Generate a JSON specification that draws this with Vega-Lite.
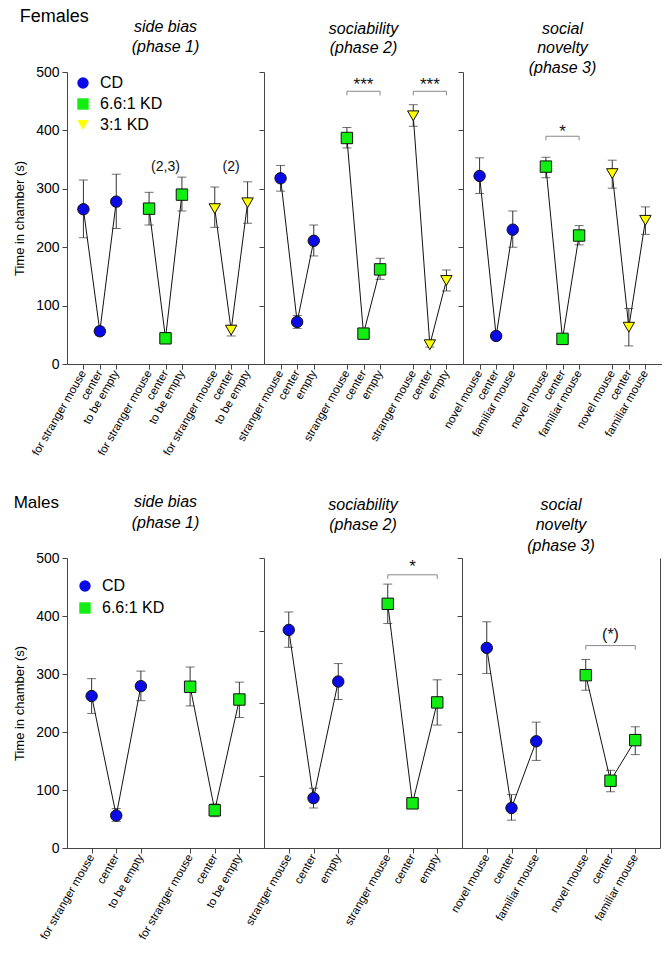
{
  "$schema": "https://vega.github.io/schema/vega-lite/v6.json",
  "padding": {"left": 13, "top": 8, "right": 0, "bottom": 0},
  "background": "white",
  "datasets": {
    "pts": [
      {"sex":"Females","phase":"side bias","diet":"CD","slot":"CD|for stranger mouse","mean":265,"lo":216,"hi":315},
      {"sex":"Females","phase":"side bias","diet":"CD","slot":"CD|center","mean":56,"lo":49,"hi":63},
      {"sex":"Females","phase":"side bias","diet":"CD","slot":"CD|to be empty","mean":278,"lo":232,"hi":325},
      {"sex":"Females","phase":"side bias","diet":"6.6:1 KD","slot":"6.6:1 KD|for stranger mouse","mean":266,"lo":238,"hi":294},
      {"sex":"Females","phase":"side bias","diet":"6.6:1 KD","slot":"6.6:1 KD|center","mean":44,"lo":41,"hi":47},
      {"sex":"Females","phase":"side bias","diet":"6.6:1 KD","slot":"6.6:1 KD|to be empty","mean":290,"lo":262,"hi":320},
      {"sex":"Females","phase":"side bias","diet":"3:1 KD","slot":"3:1 KD|for stranger mouse","mean":266,"lo":234,"hi":303},
      {"sex":"Females","phase":"side bias","diet":"3:1 KD","slot":"3:1 KD|center","mean":58,"lo":48,"hi":66},
      {"sex":"Females","phase":"side bias","diet":"3:1 KD","slot":"3:1 KD|to be empty","mean":276,"lo":241,"hi":312},
      {"sex":"Females","phase":"sociability","diet":"CD","slot":"CD|stranger mouse","mean":318,"lo":296,"hi":340},
      {"sex":"Females","phase":"sociability","diet":"CD","slot":"CD|center","mean":72,"lo":61,"hi":83},
      {"sex":"Females","phase":"sociability","diet":"CD","slot":"CD|empty","mean":211,"lo":185,"hi":238},
      {"sex":"Females","phase":"sociability","diet":"6.6:1 KD","slot":"6.6:1 KD|stranger mouse","mean":387,"lo":370,"hi":405},
      {"sex":"Females","phase":"sociability","diet":"6.6:1 KD","slot":"6.6:1 KD|center","mean":52,"lo":48,"hi":56},
      {"sex":"Females","phase":"sociability","diet":"6.6:1 KD","slot":"6.6:1 KD|empty","mean":162,"lo":145,"hi":181},
      {"sex":"Females","phase":"sociability","diet":"3:1 KD","slot":"3:1 KD|stranger mouse","mean":425,"lo":407,"hi":444},
      {"sex":"Females","phase":"sociability","diet":"3:1 KD","slot":"3:1 KD|center","mean":33,"lo":29,"hi":37},
      {"sex":"Females","phase":"sociability","diet":"3:1 KD","slot":"3:1 KD|empty","mean":143,"lo":125,"hi":161},
      {"sex":"Females","phase":"social novelty","diet":"CD","slot":"CD|novel mouse","mean":322,"lo":292,"hi":353},
      {"sex":"Females","phase":"social novelty","diet":"CD","slot":"CD|center","mean":48,"lo":44,"hi":52},
      {"sex":"Females","phase":"social novelty","diet":"CD","slot":"CD|familiar mouse","mean":230,"lo":200,"hi":262},
      {"sex":"Females","phase":"social novelty","diet":"6.6:1 KD","slot":"6.6:1 KD|novel mouse","mean":338,"lo":319,"hi":354},
      {"sex":"Females","phase":"social novelty","diet":"6.6:1 KD","slot":"6.6:1 KD|center","mean":43,"lo":40,"hi":47},
      {"sex":"Females","phase":"social novelty","diet":"6.6:1 KD","slot":"6.6:1 KD|familiar mouse","mean":220,"lo":204,"hi":237},
      {"sex":"Females","phase":"social novelty","diet":"3:1 KD","slot":"3:1 KD|novel mouse","mean":326,"lo":301,"hi":349},
      {"sex":"Females","phase":"social novelty","diet":"3:1 KD","slot":"3:1 KD|center","mean":63,"lo":31,"hi":95},
      {"sex":"Females","phase":"social novelty","diet":"3:1 KD","slot":"3:1 KD|familiar mouse","mean":246,"lo":222,"hi":269},
      {"sex":"Males","phase":"side bias","diet":"CD","slot":"CD|for stranger mouse","mean":262,"lo":232,"hi":292},
      {"sex":"Males","phase":"side bias","diet":"CD","slot":"CD|center","mean":56,"lo":46,"hi":68},
      {"sex":"Males","phase":"side bias","diet":"CD","slot":"CD|to be empty","mean":279,"lo":254,"hi":305},
      {"sex":"Males","phase":"side bias","diet":"6.6:1 KD","slot":"6.6:1 KD|for stranger mouse","mean":278,"lo":245,"hi":312},
      {"sex":"Males","phase":"side bias","diet":"6.6:1 KD","slot":"6.6:1 KD|center","mean":65,"lo":54,"hi":76},
      {"sex":"Males","phase":"side bias","diet":"6.6:1 KD","slot":"6.6:1 KD|to be empty","mean":256,"lo":225,"hi":286},
      {"sex":"Males","phase":"sociability","diet":"CD","slot":"CD|stranger mouse","mean":376,"lo":346,"hi":407},
      {"sex":"Males","phase":"sociability","diet":"CD","slot":"CD|center","mean":86,"lo":69,"hi":103},
      {"sex":"Males","phase":"sociability","diet":"CD","slot":"CD|empty","mean":287,"lo":256,"hi":318},
      {"sex":"Males","phase":"sociability","diet":"6.6:1 KD","slot":"6.6:1 KD|stranger mouse","mean":421,"lo":387,"hi":455},
      {"sex":"Males","phase":"sociability","diet":"6.6:1 KD","slot":"6.6:1 KD|center","mean":77,"lo":72,"hi":83},
      {"sex":"Males","phase":"sociability","diet":"6.6:1 KD","slot":"6.6:1 KD|empty","mean":251,"lo":212,"hi":290},
      {"sex":"Males","phase":"social novelty","diet":"CD","slot":"CD|novel mouse","mean":345,"lo":301,"hi":390},
      {"sex":"Males","phase":"social novelty","diet":"CD","slot":"CD|center","mean":69,"lo":48,"hi":92},
      {"sex":"Males","phase":"social novelty","diet":"CD","slot":"CD|familiar mouse","mean":184,"lo":151,"hi":217},
      {"sex":"Males","phase":"social novelty","diet":"6.6:1 KD","slot":"6.6:1 KD|novel mouse","mean":298,"lo":272,"hi":325},
      {"sex":"Males","phase":"social novelty","diet":"6.6:1 KD","slot":"6.6:1 KD|center","mean":116,"lo":97,"hi":134},
      {"sex":"Males","phase":"social novelty","diet":"6.6:1 KD","slot":"6.6:1 KD|familiar mouse","mean":186,"lo":161,"hi":209}
    ],
    "sig": [
      {"sex":"Females","phase":"sociability","a":"6.6:1 KD|stranger mouse","b":"6.6:1 KD|empty","m":"6.6:1 KD|center","y":467,"ylo":460,"ty":478,"label":"***"},
      {"sex":"Females","phase":"sociability","a":"3:1 KD|stranger mouse","b":"3:1 KD|empty","m":"3:1 KD|center","y":467,"ylo":460,"ty":478,"label":"***"},
      {"sex":"Females","phase":"social novelty","a":"6.6:1 KD|novel mouse","b":"6.6:1 KD|familiar mouse","m":"6.6:1 KD|center","y":390,"ylo":383,"ty":398,"label":"*"},
      {"sex":"Males","phase":"sociability","a":"6.6:1 KD|stranger mouse","b":"6.6:1 KD|empty","m":"6.6:1 KD|center","y":471,"ylo":464,"ty":485,"label":"*"},
      {"sex":"Males","phase":"social novelty","a":"6.6:1 KD|novel mouse","b":"6.6:1 KD|familiar mouse","m":"6.6:1 KD|center","y":349,"ylo":342,"ty":367,"label":"(*)"}
    ],
    "notes": [
      {"sex":"Females","phase":"side bias","m":"6.6:1 KD|center","ty":337,"label":"(2,3)"},
      {"sex":"Females","phase":"side bias","m":"3:1 KD|center","ty":337,"label":"(2)"}
    ]
  },
  "vconcat": [
    {
      "title": {"text": "Females", "anchor": "start", "fontSize": 18, "fontWeight": "normal", "offset": -7, "dx": 6},
      "bounds": "flush",
      "spacing": 0,
      "resolve": {"scale": {"fill": "independent", "shape": "independent"}},
      "hconcat": [
        {
          "width": 197, "height": 292,
          "title": {"text": ["side bias", "(phase 1)", " "], "fontSize": 16, "fontStyle": "italic", "fontWeight": "normal", "offset": -9, "lineHeight": 19.5, "frame": "group", "anchor": "middle"},
          "layer": [
            {
              "data": {"name": "pts"},
              "transform": [{"filter": "datum.sex === 'Females' && datum.phase === 'side bias'"}],
              "mark": {"type": "errorbar", "ticks": {"size": 9, "color": "#333"}, "rule": {"color": "#333"}, "color": "#333"},
              "encoding": {
                "x": {"field": "slot", "type": "ordinal", "title": null,
                  "scale": {"type": "point", "padding": 1, "domain": ["CD|for stranger mouse","CD|center","CD|to be empty","g1","6.6:1 KD|for stranger mouse","6.6:1 KD|center","6.6:1 KD|to be empty","g2","3:1 KD|for stranger mouse","3:1 KD|center","3:1 KD|to be empty"]},
                  "axis": {"values": ["CD|for stranger mouse","CD|center","CD|to be empty","6.6:1 KD|for stranger mouse","6.6:1 KD|center","6.6:1 KD|to be empty","3:1 KD|for stranger mouse","3:1 KD|center","3:1 KD|to be empty"], "labelExpr": "split(datum.value, '|')[1]", "labelAngle": -60, "labelFontSize": 11.5, "tickSize": 5, "labelPadding": 2, "labelOverlap": false, "labelBound": false, "labelFlush": false}},
                "y": {"field": "lo", "type": "quantitative",
                  "scale": {"domain": [0, 500], "nice": false, "zero": false},
                  "axis": {"title": "Time in chamber (s)", "values": [0,100,200,300,400,500], "labelFontSize": 14, "titleFontSize": 13, "titleFontWeight": "normal", "tickSize": 5, "labelPadding": 3, "titlePadding": 9}},
                "y2": {"field": "hi"}
              }
            },
            {
              "data": {"name": "pts"},
              "transform": [{"filter": "datum.sex === 'Females' && datum.phase === 'side bias'"}],
              "mark": {"type": "line", "color": "#111", "strokeWidth": 1},
              "encoding": {
                "x": {"field": "slot", "type": "ordinal", "title": null},
                "y": {"field": "mean", "type": "quantitative"},
                "detail": {"field": "diet"},
                "order": {"value": null}
              }
            },
            {
              "data": {"name": "pts"},
              "transform": [{"filter": "datum.sex === 'Females' && datum.phase === 'side bias'"}],
              "mark": {"type": "point", "filled": true, "size": 130, "stroke": "#111", "strokeWidth": 1, "opacity": 1},
              "encoding": {
                "x": {"field": "slot", "type": "ordinal", "title": null},
                "y": {"field": "mean", "type": "quantitative"},
                "fill": {"field": "diet", "type": "nominal", "scale": {"domain": ["CD","6.6:1 KD","3:1 KD"], "range": ["#0a0ae6","#11ee11","#ffff00"]},
                  "legend": {"title": null, "orient": "none", "legendX": 8, "legendY": 3, "labelFontSize": 16, "symbolSize": 130, "symbolStrokeColor": "#111", "symbolStrokeWidth": 1, "symbolOpacity": 1, "rowPadding": 5, "labelOffset": 9, "padding": 0}},
                "shape": {"field": "diet", "type": "nominal", "scale": {"domain": ["CD","6.6:1 KD","3:1 KD"], "range": ["circle","square","triangle-down"]},
                  "legend": {"title": null, "orient": "none", "legendX": 8, "legendY": 3, "labelFontSize": 16, "symbolSize": 130, "symbolStrokeColor": "#111", "symbolStrokeWidth": 1, "symbolOpacity": 1, "rowPadding": 5, "labelOffset": 9, "padding": 0}}
              }
            },
            {
              "data": {"name": "notes"},
              "transform": [{"filter": "datum.sex === 'Females' && datum.phase === 'side bias'"}],
              "mark": {"type": "text", "fontSize": 14, "color": "#111", "baseline": "middle"},
              "encoding": {
                "x": {"field": "m", "type": "ordinal", "title": null},
                "y": {"field": "ty", "type": "quantitative"},
                "text": {"field": "label"}
              }
            }
          ]
        },
        {
          "width": 199, "height": 292,
          "title": {"text": ["sociability", "(phase 2)", " "], "fontSize": 16, "fontStyle": "italic", "fontWeight": "normal", "offset": -4, "lineHeight": 19.5, "frame": "group", "anchor": "middle"},
          "layer": [
            {
              "data": {"name": "pts"},
              "transform": [{"filter": "datum.sex === 'Females' && datum.phase === 'sociability'"}],
              "mark": {"type": "errorbar", "ticks": {"size": 9, "color": "#333"}, "rule": {"color": "#333"}, "color": "#333"},
              "encoding": {
                "x": {"field": "slot", "type": "ordinal", "title": null,
                  "scale": {"type": "point", "padding": 1, "domain": ["CD|stranger mouse","CD|center","CD|empty","g1","6.6:1 KD|stranger mouse","6.6:1 KD|center","6.6:1 KD|empty","g2","3:1 KD|stranger mouse","3:1 KD|center","3:1 KD|empty"]},
                  "axis": {"values": ["CD|stranger mouse","CD|center","CD|empty","6.6:1 KD|stranger mouse","6.6:1 KD|center","6.6:1 KD|empty","3:1 KD|stranger mouse","3:1 KD|center","3:1 KD|empty"], "labelExpr": "split(datum.value, '|')[1]", "labelAngle": -60, "labelFontSize": 11.5, "tickSize": 5, "labelPadding": 2, "labelOverlap": false, "labelBound": false, "labelFlush": false}},
                "y": {"field": "lo", "type": "quantitative", "title": null,
                  "scale": {"domain": [0, 500], "nice": false, "zero": false},
                  "axis": {"values": [0,100,200,300,400,500], "labels": false, "tickSize": 5, "title": null}},
                "y2": {"field": "hi"}
              }
            },
            {
              "data": {"name": "pts"},
              "transform": [{"filter": "datum.sex === 'Females' && datum.phase === 'sociability'"}],
              "mark": {"type": "line", "color": "#111", "strokeWidth": 1},
              "encoding": {
                "x": {"field": "slot", "type": "ordinal", "title": null},
                "y": {"field": "mean", "type": "quantitative", "title": null},
                "detail": {"field": "diet"},
                "order": {"value": null}
              }
            },
            {
              "data": {"name": "pts"},
              "transform": [{"filter": "datum.sex === 'Females' && datum.phase === 'sociability'"}],
              "mark": {"type": "point", "filled": true, "size": 130, "stroke": "#111", "strokeWidth": 1, "opacity": 1},
              "encoding": {
                "x": {"field": "slot", "type": "ordinal", "title": null},
                "y": {"field": "mean", "type": "quantitative", "title": null},
                "fill": {"field": "diet", "type": "nominal", "scale": {"domain": ["CD","6.6:1 KD","3:1 KD"], "range": ["#0a0ae6","#11ee11","#ffff00"]}, "legend": null},
                "shape": {"field": "diet", "type": "nominal", "scale": {"domain": ["CD","6.6:1 KD","3:1 KD"], "range": ["circle","square","triangle-down"]}, "legend": null}
              }
            },
            {
              "data": {"name": "sig"},
              "transform": [{"filter": "datum.sex === 'Females' && datum.phase === 'sociability'"}],
              "mark": {"type": "rule", "color": "#888", "strokeWidth": 1},
              "encoding": {"x": {"field": "a", "type": "ordinal", "title": null}, "x2": {"field": "b"}, "y": {"field": "y", "type": "quantitative", "title": null}}
            },
            {
              "data": {"name": "sig"},
              "transform": [{"filter": "datum.sex === 'Females' && datum.phase === 'sociability'"}],
              "mark": {"type": "rule", "color": "#888", "strokeWidth": 1},
              "encoding": {"x": {"field": "a", "type": "ordinal", "title": null}, "y": {"field": "y", "type": "quantitative", "title": null}, "y2": {"field": "ylo"}}
            },
            {
              "data": {"name": "sig"},
              "transform": [{"filter": "datum.sex === 'Females' && datum.phase === 'sociability'"}],
              "mark": {"type": "rule", "color": "#888", "strokeWidth": 1},
              "encoding": {"x": {"field": "b", "type": "ordinal", "title": null}, "y": {"field": "y", "type": "quantitative", "title": null}, "y2": {"field": "ylo"}}
            },
            {
              "data": {"name": "sig"},
              "transform": [{"filter": "datum.sex === 'Females' && datum.phase === 'sociability'"}],
              "mark": {"type": "text", "fontSize": 17, "color": "#111", "baseline": "middle"},
              "encoding": {"x": {"field": "m", "type": "ordinal", "title": null}, "y": {"field": "ty", "type": "quantitative", "title": null}, "text": {"field": "label"}}
            }
          ]
        },
        {
          "width": 199, "height": 292,
          "title": {"text": ["social", "novelty", "(phase 3)"], "fontSize": 16, "fontStyle": "italic", "fontWeight": "normal", "offset": -4, "lineHeight": 19.5, "frame": "group", "anchor": "middle"},
          "resolve": {"axis": {"y": "independent"}},
          "layer": [
            {
              "data": {"name": "pts"},
              "transform": [{"filter": "datum.sex === 'Females' && datum.phase === 'social novelty'"}],
              "mark": {"type": "errorbar", "ticks": {"size": 9, "color": "#333"}, "rule": {"color": "#333"}, "color": "#333"},
              "encoding": {
                "x": {"field": "slot", "type": "ordinal", "title": null,
                  "scale": {"type": "point", "padding": 1, "domain": ["CD|novel mouse","CD|center","CD|familiar mouse","g1","6.6:1 KD|novel mouse","6.6:1 KD|center","6.6:1 KD|familiar mouse","g2","3:1 KD|novel mouse","3:1 KD|center","3:1 KD|familiar mouse"]},
                  "axis": {"values": ["CD|novel mouse","CD|center","CD|familiar mouse","6.6:1 KD|novel mouse","6.6:1 KD|center","6.6:1 KD|familiar mouse","3:1 KD|novel mouse","3:1 KD|center","3:1 KD|familiar mouse"], "labelExpr": "split(datum.value, '|')[1]", "labelAngle": -60, "labelFontSize": 11.5, "tickSize": 5, "labelPadding": 2, "labelOverlap": false, "labelBound": false, "labelFlush": false}},
                "y": {"field": "lo", "type": "quantitative", "title": null,
                  "scale": {"domain": [0, 500], "nice": false, "zero": false},
                  "axis": {"values": [0,100,200,300,400,500], "labels": false, "tickSize": 5, "title": null}},
                "y2": {"field": "hi"}
              }
            },
            {
              "data": {"name": "pts"},
              "transform": [{"filter": "datum.sex === 'Females' && datum.phase === 'social novelty'"}],
              "mark": {"type": "line", "color": "#111", "strokeWidth": 1},
              "encoding": {
                "x": {"field": "slot", "type": "ordinal", "title": null},
                "y": {"field": "mean", "type": "quantitative", "title": null, "axis": null},
                "detail": {"field": "diet"},
                "order": {"value": null}
              }
            },
            {
              "data": {"name": "pts"},
              "transform": [{"filter": "datum.sex === 'Females' && datum.phase === 'social novelty'"}],
              "mark": {"type": "point", "filled": true, "size": 130, "stroke": "#111", "strokeWidth": 1, "opacity": 1},
              "encoding": {
                "x": {"field": "slot", "type": "ordinal", "title": null},
                "y": {"field": "mean", "type": "quantitative", "title": null, "axis": {"orient": "right", "labels": false, "ticks": false, "title": null, "domainColor": "#888"}},
                "fill": {"field": "diet", "type": "nominal", "scale": {"domain": ["CD","6.6:1 KD","3:1 KD"], "range": ["#0a0ae6","#11ee11","#ffff00"]}, "legend": null},
                "shape": {"field": "diet", "type": "nominal", "scale": {"domain": ["CD","6.6:1 KD","3:1 KD"], "range": ["circle","square","triangle-down"]}, "legend": null}
              }
            },
            {
              "data": {"name": "sig"},
              "transform": [{"filter": "datum.sex === 'Females' && datum.phase === 'social novelty'"}],
              "mark": {"type": "rule", "color": "#888", "strokeWidth": 1},
              "encoding": {"x": {"field": "a", "type": "ordinal", "title": null}, "x2": {"field": "b"}, "y": {"field": "y", "type": "quantitative", "title": null, "axis": null}}
            },
            {
              "data": {"name": "sig"},
              "transform": [{"filter": "datum.sex === 'Females' && datum.phase === 'social novelty'"}],
              "mark": {"type": "rule", "color": "#888", "strokeWidth": 1},
              "encoding": {"x": {"field": "a", "type": "ordinal", "title": null}, "y": {"field": "y", "type": "quantitative", "title": null, "axis": null}, "y2": {"field": "ylo"}}
            },
            {
              "data": {"name": "sig"},
              "transform": [{"filter": "datum.sex === 'Females' && datum.phase === 'social novelty'"}],
              "mark": {"type": "rule", "color": "#888", "strokeWidth": 1},
              "encoding": {"x": {"field": "b", "type": "ordinal", "title": null}, "y": {"field": "y", "type": "quantitative", "title": null, "axis": null}, "y2": {"field": "ylo"}}
            },
            {
              "data": {"name": "sig"},
              "transform": [{"filter": "datum.sex === 'Females' && datum.phase === 'social novelty'"}],
              "mark": {"type": "text", "fontSize": 17, "color": "#111", "baseline": "middle"},
              "encoding": {"x": {"field": "m", "type": "ordinal", "title": null}, "y": {"field": "ty", "type": "quantitative", "title": null, "axis": null}, "text": {"field": "label"}}
            }
          ]
        }
      ]
    },
    {
      "title": {"text": "Males", "anchor": "start", "fontSize": 17, "fontWeight": "normal", "offset": -18, "dx": 0},
      "bounds": "flush",
      "spacing": 0,
      "resolve": {"scale": {"fill": "independent", "shape": "independent"}},
      "hconcat": [
        {
          "width": 197, "height": 290,
          "title": {"text": ["side bias", "(phase 1)", " "], "fontSize": 16, "fontStyle": "italic", "fontWeight": "normal", "offset": 0, "lineHeight": 20.5, "frame": "group", "anchor": "middle"},
          "layer": [
            {
              "data": {"name": "pts"},
              "transform": [{"filter": "datum.sex === 'Males' && datum.phase === 'side bias'"}],
              "mark": {"type": "errorbar", "ticks": {"size": 9, "color": "#333"}, "rule": {"color": "#333"}, "color": "#333"},
              "encoding": {
                "x": {"field": "slot", "type": "ordinal", "title": null,
                  "scale": {"type": "point", "padding": 1, "domain": ["CD|for stranger mouse","CD|center","CD|to be empty","g1","6.6:1 KD|for stranger mouse","6.6:1 KD|center","6.6:1 KD|to be empty"]},
                  "axis": {"values": ["CD|for stranger mouse","CD|center","CD|to be empty","6.6:1 KD|for stranger mouse","6.6:1 KD|center","6.6:1 KD|to be empty"], "labelExpr": "split(datum.value, '|')[1]", "labelAngle": -60, "labelFontSize": 11.5, "tickSize": 5, "labelPadding": 2, "labelOverlap": false, "labelBound": false, "labelFlush": false}},
                "y": {"field": "lo", "type": "quantitative",
                  "scale": {"domain": [0, 500], "nice": false, "zero": false},
                  "axis": {"title": "Time in chamber (s)", "values": [0,100,200,300,400,500], "labelFontSize": 14, "titleFontSize": 13, "titleFontWeight": "normal", "tickSize": 5, "labelPadding": 3, "titlePadding": 9}},
                "y2": {"field": "hi"}
              }
            },
            {
              "data": {"name": "pts"},
              "transform": [{"filter": "datum.sex === 'Males' && datum.phase === 'side bias'"}],
              "mark": {"type": "line", "color": "#111", "strokeWidth": 1},
              "encoding": {
                "x": {"field": "slot", "type": "ordinal", "title": null},
                "y": {"field": "mean", "type": "quantitative"},
                "detail": {"field": "diet"},
                "order": {"value": null}
              }
            },
            {
              "data": {"name": "pts"},
              "transform": [{"filter": "datum.sex === 'Males' && datum.phase === 'side bias'"}],
              "mark": {"type": "point", "filled": true, "size": 130, "stroke": "#111", "strokeWidth": 1, "opacity": 1},
              "encoding": {
                "x": {"field": "slot", "type": "ordinal", "title": null},
                "y": {"field": "mean", "type": "quantitative"},
                "fill": {"field": "diet", "type": "nominal", "scale": {"domain": ["CD","6.6:1 KD"], "range": ["#0a0ae6","#11ee11"]},
                  "legend": {"title": null, "orient": "none", "legendX": 10, "legendY": 20, "labelFontSize": 16, "symbolSize": 130, "symbolStrokeColor": "#111", "symbolStrokeWidth": 1, "symbolOpacity": 1, "rowPadding": 6, "labelOffset": 9, "padding": 0}},
                "shape": {"field": "diet", "type": "nominal", "scale": {"domain": ["CD","6.6:1 KD"], "range": ["circle","square"]},
                  "legend": {"title": null, "orient": "none", "legendX": 10, "legendY": 20, "labelFontSize": 16, "symbolSize": 130, "symbolStrokeColor": "#111", "symbolStrokeWidth": 1, "symbolOpacity": 1, "rowPadding": 6, "labelOffset": 9, "padding": 0}}
              }
            }
          ]
        },
        {
          "width": 198, "height": 290,
          "title": {"text": ["sociability", "(phase 2)", " "], "fontSize": 16, "fontStyle": "italic", "fontWeight": "normal", "offset": 4, "lineHeight": 20.5, "frame": "group", "anchor": "middle"},
          "layer": [
            {
              "data": {"name": "pts"},
              "transform": [{"filter": "datum.sex === 'Males' && datum.phase === 'sociability'"}],
              "mark": {"type": "errorbar", "ticks": {"size": 9, "color": "#333"}, "rule": {"color": "#333"}, "color": "#333"},
              "encoding": {
                "x": {"field": "slot", "type": "ordinal", "title": null,
                  "scale": {"type": "point", "padding": 1, "domain": ["CD|stranger mouse","CD|center","CD|empty","g1","6.6:1 KD|stranger mouse","6.6:1 KD|center","6.6:1 KD|empty"]},
                  "axis": {"values": ["CD|stranger mouse","CD|center","CD|empty","6.6:1 KD|stranger mouse","6.6:1 KD|center","6.6:1 KD|empty"], "labelExpr": "split(datum.value, '|')[1]", "labelAngle": -60, "labelFontSize": 11.5, "tickSize": 5, "labelPadding": 2, "labelOverlap": false, "labelBound": false, "labelFlush": false}},
                "y": {"field": "lo", "type": "quantitative", "title": null,
                  "scale": {"domain": [0, 500], "nice": false, "zero": false},
                  "axis": {"values": [0,62.5,125,187.5,250,312.5,375,437.5,500], "labels": false, "tickSize": 5, "title": null}},
                "y2": {"field": "hi"}
              }
            },
            {
              "data": {"name": "pts"},
              "transform": [{"filter": "datum.sex === 'Males' && datum.phase === 'sociability'"}],
              "mark": {"type": "line", "color": "#111", "strokeWidth": 1},
              "encoding": {
                "x": {"field": "slot", "type": "ordinal", "title": null},
                "y": {"field": "mean", "type": "quantitative", "title": null},
                "detail": {"field": "diet"},
                "order": {"value": null}
              }
            },
            {
              "data": {"name": "pts"},
              "transform": [{"filter": "datum.sex === 'Males' && datum.phase === 'sociability'"}],
              "mark": {"type": "point", "filled": true, "size": 130, "stroke": "#111", "strokeWidth": 1, "opacity": 1},
              "encoding": {
                "x": {"field": "slot", "type": "ordinal", "title": null},
                "y": {"field": "mean", "type": "quantitative", "title": null},
                "fill": {"field": "diet", "type": "nominal", "scale": {"domain": ["CD","6.6:1 KD"], "range": ["#0a0ae6","#11ee11"]}, "legend": null},
                "shape": {"field": "diet", "type": "nominal", "scale": {"domain": ["CD","6.6:1 KD"], "range": ["circle","square"]}, "legend": null}
              }
            },
            {
              "data": {"name": "sig"},
              "transform": [{"filter": "datum.sex === 'Males' && datum.phase === 'sociability'"}],
              "mark": {"type": "rule", "color": "#888", "strokeWidth": 1},
              "encoding": {"x": {"field": "a", "type": "ordinal", "title": null}, "x2": {"field": "b"}, "y": {"field": "y", "type": "quantitative", "title": null}}
            },
            {
              "data": {"name": "sig"},
              "transform": [{"filter": "datum.sex === 'Males' && datum.phase === 'sociability'"}],
              "mark": {"type": "rule", "color": "#888", "strokeWidth": 1},
              "encoding": {"x": {"field": "a", "type": "ordinal", "title": null}, "y": {"field": "y", "type": "quantitative", "title": null}, "y2": {"field": "ylo"}}
            },
            {
              "data": {"name": "sig"},
              "transform": [{"filter": "datum.sex === 'Males' && datum.phase === 'sociability'"}],
              "mark": {"type": "rule", "color": "#888", "strokeWidth": 1},
              "encoding": {"x": {"field": "b", "type": "ordinal", "title": null}, "y": {"field": "y", "type": "quantitative", "title": null}, "y2": {"field": "ylo"}}
            },
            {
              "data": {"name": "sig"},
              "transform": [{"filter": "datum.sex === 'Males' && datum.phase === 'sociability'"}],
              "mark": {"type": "text", "fontSize": 17, "color": "#111", "baseline": "middle"},
              "encoding": {"x": {"field": "m", "type": "ordinal", "title": null}, "y": {"field": "ty", "type": "quantitative", "title": null}, "text": {"field": "label"}}
            }
          ]
        },
        {
          "width": 198, "height": 290,
          "title": {"text": ["social", "novelty", "(phase 3)"], "fontSize": 16, "fontStyle": "italic", "fontWeight": "normal", "offset": 4, "lineHeight": 20.5, "frame": "group", "anchor": "middle"},
          "resolve": {"axis": {"y": "independent"}},
          "layer": [
            {
              "data": {"name": "pts"},
              "transform": [{"filter": "datum.sex === 'Males' && datum.phase === 'social novelty'"}],
              "mark": {"type": "errorbar", "ticks": {"size": 9, "color": "#333"}, "rule": {"color": "#333"}, "color": "#333"},
              "encoding": {
                "x": {"field": "slot", "type": "ordinal", "title": null,
                  "scale": {"type": "point", "padding": 1, "domain": ["CD|novel mouse","CD|center","CD|familiar mouse","g1","6.6:1 KD|novel mouse","6.6:1 KD|center","6.6:1 KD|familiar mouse"]},
                  "axis": {"values": ["CD|novel mouse","CD|center","CD|familiar mouse","6.6:1 KD|novel mouse","6.6:1 KD|center","6.6:1 KD|familiar mouse"], "labelExpr": "split(datum.value, '|')[1]", "labelAngle": -60, "labelFontSize": 11.5, "tickSize": 5, "labelPadding": 2, "labelOverlap": false, "labelBound": false, "labelFlush": false}},
                "y": {"field": "lo", "type": "quantitative", "title": null,
                  "scale": {"domain": [0, 500], "nice": false, "zero": false},
                  "axis": {"values": [0,100,200,300,400,500], "labels": false, "tickSize": 5, "title": null}},
                "y2": {"field": "hi"}
              }
            },
            {
              "data": {"name": "pts"},
              "transform": [{"filter": "datum.sex === 'Males' && datum.phase === 'social novelty'"}],
              "mark": {"type": "line", "color": "#111", "strokeWidth": 1},
              "encoding": {
                "x": {"field": "slot", "type": "ordinal", "title": null},
                "y": {"field": "mean", "type": "quantitative", "title": null, "axis": null},
                "detail": {"field": "diet"},
                "order": {"value": null}
              }
            },
            {
              "data": {"name": "pts"},
              "transform": [{"filter": "datum.sex === 'Males' && datum.phase === 'social novelty'"}],
              "mark": {"type": "point", "filled": true, "size": 130, "stroke": "#111", "strokeWidth": 1, "opacity": 1},
              "encoding": {
                "x": {"field": "slot", "type": "ordinal", "title": null},
                "y": {"field": "mean", "type": "quantitative", "title": null, "axis": {"orient": "right", "labels": false, "ticks": false, "title": null, "domainColor": "#444"}},
                "fill": {"field": "diet", "type": "nominal", "scale": {"domain": ["CD","6.6:1 KD"], "range": ["#0a0ae6","#11ee11"]}, "legend": null},
                "shape": {"field": "diet", "type": "nominal", "scale": {"domain": ["CD","6.6:1 KD"], "range": ["circle","square"]}, "legend": null}
              }
            },
            {
              "data": {"name": "sig"},
              "transform": [{"filter": "datum.sex === 'Males' && datum.phase === 'social novelty'"}],
              "mark": {"type": "rule", "color": "#888", "strokeWidth": 1},
              "encoding": {"x": {"field": "a", "type": "ordinal", "title": null}, "x2": {"field": "b"}, "y": {"field": "y", "type": "quantitative", "title": null, "axis": null}}
            },
            {
              "data": {"name": "sig"},
              "transform": [{"filter": "datum.sex === 'Males' && datum.phase === 'social novelty'"}],
              "mark": {"type": "rule", "color": "#888", "strokeWidth": 1},
              "encoding": {"x": {"field": "a", "type": "ordinal", "title": null}, "y": {"field": "y", "type": "quantitative", "title": null, "axis": null}, "y2": {"field": "ylo"}}
            },
            {
              "data": {"name": "sig"},
              "transform": [{"filter": "datum.sex === 'Males' && datum.phase === 'social novelty'"}],
              "mark": {"type": "rule", "color": "#888", "strokeWidth": 1},
              "encoding": {"x": {"field": "b", "type": "ordinal", "title": null}, "y": {"field": "y", "type": "quantitative", "title": null, "axis": null}, "y2": {"field": "ylo"}}
            },
            {
              "data": {"name": "sig"},
              "transform": [{"filter": "datum.sex === 'Males' && datum.phase === 'social novelty'"}],
              "mark": {"type": "text", "fontSize": 16, "color": "#111", "baseline": "middle"},
              "encoding": {"x": {"field": "m", "type": "ordinal", "title": null}, "y": {"field": "ty", "type": "quantitative", "title": null, "axis": null}, "text": {"field": "label"}}
            }
          ]
        }
      ]
    }
  ],
  "spacing": 36,
  "config": {
    "font": "Liberation Sans",
    "view": {"stroke": null},
    "axis": {"domainColor": "#444", "tickColor": "#444", "labelColor": "#000", "titleColor": "#000", "grid": false, "labelFont": "Liberation Sans", "titleFont": "Liberation Sans"},
    "title": {"font": "Liberation Sans", "color": "#000"},
    "legend": {"labelFont": "Liberation Sans", "labelColor": "#000"},
    "text": {"font": "Liberation Sans"}
  }
}
